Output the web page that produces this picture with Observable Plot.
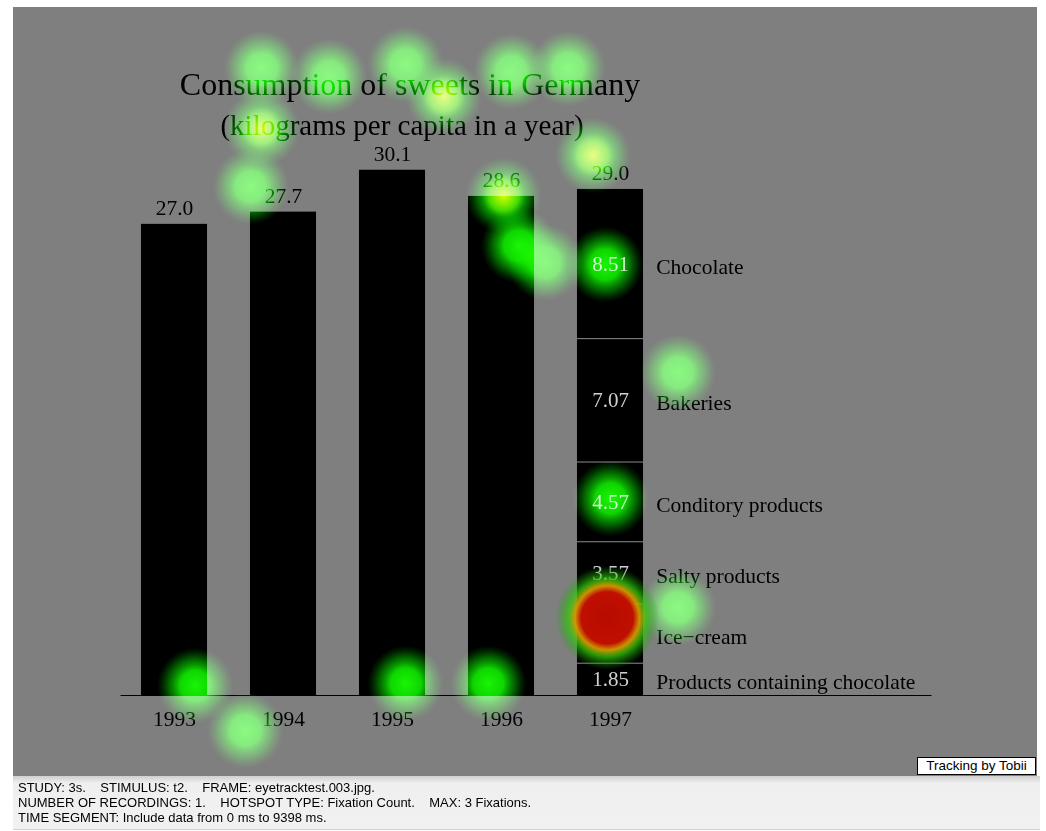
<!DOCTYPE html>
<html>
<head>
<meta charset="utf-8">
<script src="https://cdn.jsdelivr.net/npm/d3@7"></script>
<script src="https://cdn.jsdelivr.net/npm/@observablehq/plot@0.6"></script>
<style>
  html, body { margin: 0; padding: 0; background: #fff; width: 1046px; height: 831px; overflow: hidden; }
  #chart { position: absolute; left: 13px; top: 7px; width: 1024px; height: 769px; background: #7f7f7f; }
  #tobii { position: absolute; left: 917px; top: 757px; width: 117px; height: 16px; background: #fff; border: 1px solid #000;
           font: 13.5px "Liberation Sans", Arial, sans-serif; text-align: center; line-height: 16px; color: #000; }
  #info { position: absolute; left: 13px; top: 776px; width: 1027px; height: 53px;
          background: linear-gradient(#cfcfcf 0px, #efefef 7px, #f1f1f1 100%); border-bottom: 1px solid #d0d0d0;
          font: 13px "Liberation Sans", Arial, sans-serif; color: #000; white-space: pre; }
  #info div { position: absolute; left: 5px; line-height: 14px; }
</style>
</head>
<body>
<div id="chart"></div>
<div id="tobii">Tracking by Tobii</div>
<div id="info">
  <div style="top:5px">STUDY: 3s.    STIMULUS: t2.    FRAME: eyetracktest.003.jpg.</div>
  <div style="top:20px">NUMBER OF RECORDINGS: 1.    HOTSPOT TYPE: Fixation Count.    MAX: 3 Fixations.</div>
  <div style="top:35px">TIME SEGMENT: Include data from 0 ms to 9398 ms.</div>
</div>
<script>
// ---- data ----
const years = [1993, 1994, 1995, 1996, 1997];
const totals = [27.0, 27.7, 30.1, 28.6, 29.0];
const categories1997 = ["Products containing chocolate", "Ice\u2212cream", "Salty products", "Conditory products", "Bakeries", "Chocolate"];
const values1997 = [1.85, 3.39, 3.57, 4.57, 7.07, 8.51];
const titleText = "Consumption of sweets in Germany";
const subtitleText = "(kilograms per capita in a year)";
// eye-tracking fixations (x in years, y in kg), count = fixations at that spot
const fixX = [1993.80, 1994.42, 1995.12, 1995.47, 1996.09, 1996.61, 1993.80, 1993.70, 1996.84, 1996.02, 1996.16, 1996.40, 1996.95, 1997.62, 1997.00, 1996.97, 1997.62, 1993.19, 1993.65, 1995.12, 1995.88];
const fixY = [35.93, 35.47, 36.16, 34.33, 35.76, 35.93, 32.49, 29.17, 30.95, 28.65, 25.79, 24.81, 24.70, 18.51, 11.29, 4.45, 5.04, 0.57, -2.0, 0.69, 0.69];
const fixN = [1, 1, 1, 2, 1, 1, 2, 1, 2, 2, 1, 1, 1, 1, 1, 3, 1, 1, 1, 1, 1];

// ---- tables ----
const bars = years.map((year, i) => ({year, total: totals[i]}));
let acc = 0;
const segs = values1997.map((v, i) => { const s = {cat: categories1997[i], value: v, y1: acc, y2: acc + v}; acc += v; return s; });
const fixations = fixX.map((x, i) => ({x, y: fixY[i], n: fixN[i]}));
const half = 0.303;
const serif = "'Liberation Serif', 'Times New Roman', serif";

const plot = Plot.plot({
  width: 1024,
  height: 769,
  marginLeft: 106.5,
  marginRight: 45.5,
  marginTop: 24.9,
  marginBottom: 81,
  x: {type: "linear", domain: [1992.5, 2000.5], axis: null},
  y: {domain: [0, 38], axis: null},
  style: {background: "#7f7f7f", fontFamily: serif, color: "#000", overflow: "visible"},
  marks: [
    Plot.rectY(bars, {x1: d => d.year - half, x2: d => d.year + half, y1: 0, y2: "total", fill: "#000"}),
    Plot.ruleY(segs.slice(1), {y: "y1", x1: 1997 - half, x2: 1997 + half, stroke: "#8c8c8c", strokeWidth: 1}),
    Plot.ruleY([0], {x1: 1992.51, x2: 1999.95, stroke: "#000", strokeWidth: 1}),
    Plot.text(bars, {x: "year", y: "total", text: d => d.total.toFixed(1), dy: -16, fontSize: 21.5, fill: "#000"}),
    Plot.text(bars, {x: "year", y: 0, text: d => String(d.year), dy: 24, fontSize: 21.5, fill: "#000"}),
    Plot.text(segs, {x: 1997, y: d => (d.y1 + d.y2) / 2, text: d => d.value.toFixed(2), fontSize: 21, fill: "#d0d0d0"}),
    Plot.text(segs, {x: 1997.42, y: d => (d.y1 + d.y2) / 2, text: "cat", dy: 3, textAnchor: "start", fontSize: 21.5, fill: "#000"}),
    Plot.text([titleText], {frameAnchor: "top", lineAnchor: "middle", dx: -146, dy: 52, fontSize: 32, fill: "#000"}),
    Plot.text([subtitleText], {frameAnchor: "top", lineAnchor: "middle", dx: -154, dy: 93, fontSize: 29, fill: "#000"}),
    // heat spots
    Plot.dot(fixations, {x: "x", y: "y", r: 38, fill: "url(#gGreen)", stroke: null, mixBlendMode: "screen"}),
    Plot.dot(fixations.filter(d => d.n >= 2), {x: "x", y: "y", r: 22, fill: "url(#gYellow)", stroke: null, mixBlendMode: "screen"}),
    Plot.dot(fixations.filter(d => d.n >= 3), {x: "x", y: "y", r: 52, fill: "url(#gRed)", stroke: null})
  ]
});

const svg = d3.select(plot);
const defs = svg.insert("defs", ":first-child");
function grad(id, stops) {
  const g = defs.append("radialGradient").attr("id", id).attr("cx", "50%").attr("cy", "50%").attr("r", "50%");
  stops.forEach(([o, c, a]) => g.append("stop").attr("offset", o).attr("stop-color", c).attr("stop-opacity", a));
}
grad("gGreen", [["0%", "rgb(25,245,5)", 1], ["40%", "rgb(15,225,0)", 0.95], ["70%", "rgb(5,175,0)", 0.55], ["100%", "rgb(0,120,0)", 0]]);
grad("gYellow", [["0%", "rgb(215,170,0)", 1], ["50%", "rgb(170,120,0)", 0.6], ["100%", "rgb(120,60,0)", 0]]);
grad("gRed", [["0%", "rgb(185,10,0)", 1], ["50%", "rgb(190,15,0)", 1], ["62%", "rgb(215,150,0)", 0.95], ["75%", "rgb(50,200,10)", 0.75], ["100%", "rgb(20,160,10)", 0]]);

document.getElementById("chart").appendChild(plot);
</script>
</body>
</html>
